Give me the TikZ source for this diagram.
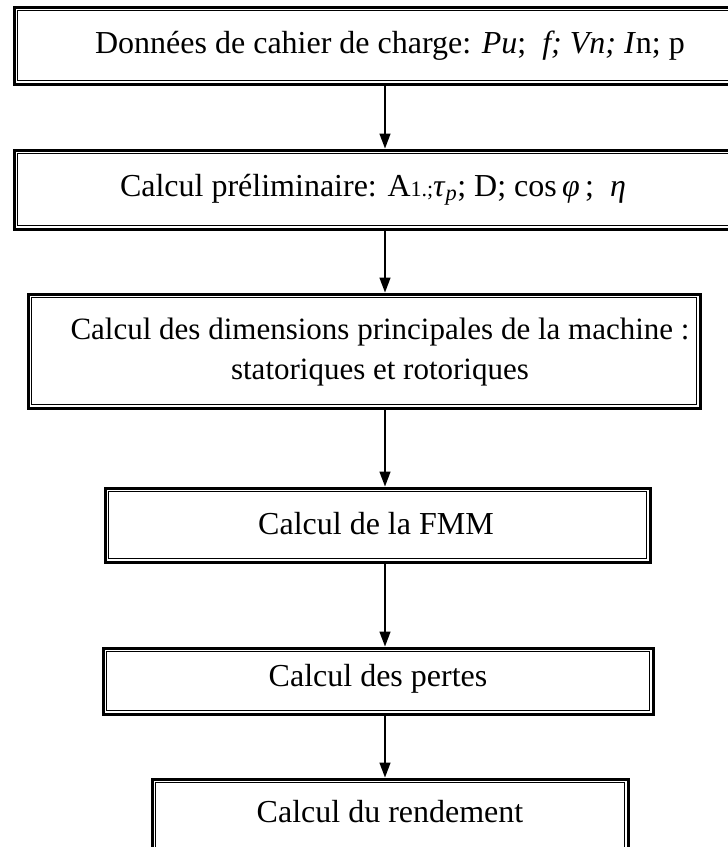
\documentclass[tikz,border=0pt]{standalone}
\usepackage{fontspec}
\setmainfont{Liberation Serif}
\usetikzlibrary{arrows.meta}
\tikzset{
  x=1pt,y=1pt,
  boxnode/.style={draw,line width=3pt,inner sep=0pt},
  txt/.style={inner sep=0pt,align=center,font=\fontsize{32}{40}\selectfont},
  innerline/.style={line width=1.6pt},
  arr/.style={line width=1.4pt,-{Triangle[length=15pt,width=11pt]}}
}
\newcommand{\dbox}[1]{\draw[innerline] ([xshift=5pt,yshift=-5pt]#1.north west) rectangle ([xshift=-5pt,yshift=5pt]#1.south east);}
\begin{document}
\begin{tikzpicture}
\useasboundingbox (0,0) rectangle (728,-847);
% boxes
\node[boxnode,minimum width=752,minimum height=77] (b1) at (390,-45.5) {};
\dbox{b1}
\node[boxnode,minimum width=731,minimum height=79] (b2) at (379.5,-189.5) {};
\dbox{b2}
\node[boxnode,minimum width=672,minimum height=114] (b3) at (364,-351) {};
\dbox{b3}
\node[boxnode,minimum width=545,minimum height=74] (b4) at (377.5,-525) {};
\dbox{b4}
\node[boxnode,minimum width=550,minimum height=66] (b5) at (378,-681) {};
\dbox{b5}
\node[boxnode,minimum width=476,minimum height=72] (b6) at (390,-815) {};
\dbox{b6}
% texts
\node[txt] (t1) at (390,-45.5)
  {Données de cahier de charge: \textit{Pu};~ \textit{f; Vn; I}n; p};
\node[txt] (t2) at (373,-189.5)
  {Calcul préliminaire: A{\fontsize{22}{26}\selectfont 1.;}\textit{τ}\textsubscript{\textit{p}}; D; cos\,\textit{φ}\,;~ \textit{η}};
\node[txt,font=\fontsize{31}{40}\selectfont] (t3) at (380,-352)
  {Calcul des dimensions principales de la machine :\\statoriques et rotoriques};
\node[txt] (t4) at (376,-524) {Calcul de la FMM};
\node[txt] (t5) at (378,-679) {Calcul des pertes};
\node[txt] (t6) at (390,-812) {Calcul du rendement};
% arrows
\coordinate (ax) at (385,0);
\draw[arr] (b1.south -| ax) -- (b2.north -| ax);
\draw[arr] (b2.south -| ax) -- (b3.north -| ax);
\draw[arr] (b3.south -| ax) -- (b4.north -| ax);
\draw[arr] (b4.south -| ax) -- (b5.north -| ax);
\draw[arr] (b5.south -| ax) -- (b6.north -| ax);
\end{tikzpicture}
\end{document}
